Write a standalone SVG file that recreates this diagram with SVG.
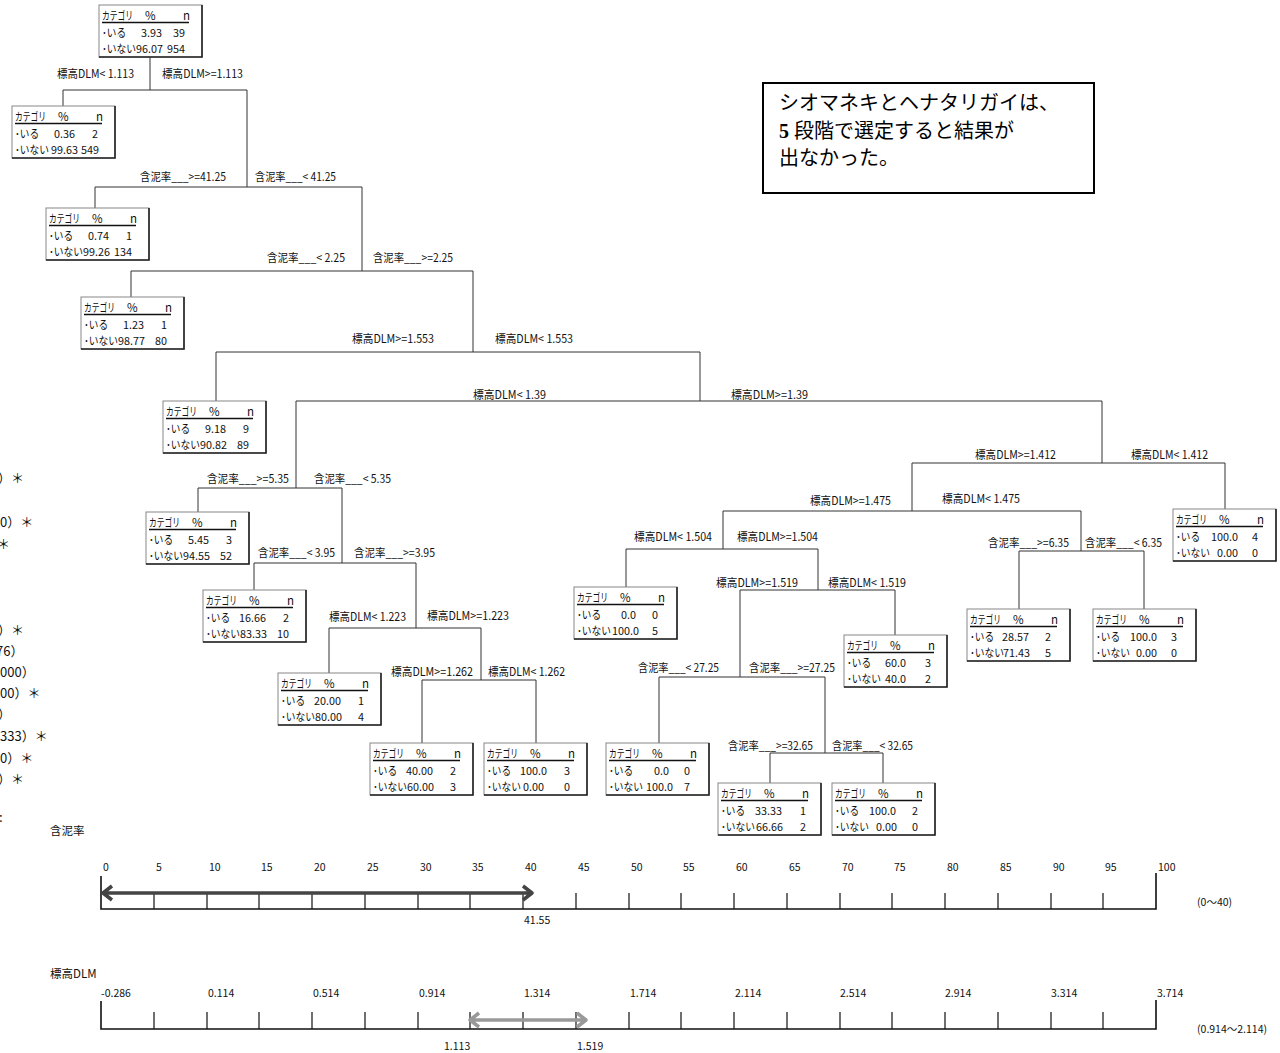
<svg xmlns="http://www.w3.org/2000/svg" width="1280" height="1053" viewBox="0 0 1280 1053">
<style>
  text { font-family: "Noto Sans CJK JP", "Liberation Sans", sans-serif; fill: #111; }
  .t { font-size: 11.5px; }
  .v { font-size: 10.8px; text-anchor: end; }
  .lb { font-size: 11.5px; }
  .sc { font-size: 10.5px; }
  .cut { font-size: 13px; }
  .note { font-family: "Liberation Serif", "Noto Sans CJK JP", serif; font-size: 20px; fill: #000; }
  .box { fill: #fff; stroke: #888; stroke-width: 1; }
  .sh { fill: none; stroke: #222; stroke-width: 1.6; }
  .ul { stroke: #111; stroke-width: 1.5; }
  .cn { fill: none; stroke: #333; stroke-width: 1; }
  .ax { stroke: #111; stroke-width: 1.6; fill: none; }
  .tk { stroke: #111; stroke-width: 1.2; }
</style>
<defs>
  <!-- shared node frame: box, darker bottom/right edge, header underline, row captions -->
  <g id="frame">
    <rect class="box" x="0" y="0" width="103" height="52"/>
    <path class="sh" d="M103,0V52H0"/>
    <line class="ul" x1="3" y1="17.5" x2="90" y2="17.5"/>
    <text class="t" x="3" y="15" textLength="31" lengthAdjust="spacingAndGlyphs">カテゴリ</text>
    <text class="t" x="46" y="15">%</text>
    <text class="t" x="84" y="15">n</text>
    <text class="t" x="3" y="32" textLength="24" lengthAdjust="spacingAndGlyphs">･いる</text>
    <text class="t" x="3" y="48" textLength="34" lengthAdjust="spacingAndGlyphs">･いない</text>
  </g>
</defs>

<!-- connectors of the tree -->
<g id="connectors">
  <path class="cn" d="M150,57V90 M63,90H247 M63,90V106 M247,90V187"/>
  <path class="cn" d="M95,187H362 M95,187V208 M362,187V271"/>
  <path class="cn" d="M131,271H473 M131,271V297 M473,271V352"/>
  <path class="cn" d="M216,352H700 M216,352V401 M700,352V401"/>
  <path class="cn" d="M296,401H1102 M296,401V488 M1102,401V463"/>
  <path class="cn" d="M198,488H342 M198,488V512 M342,488V563"/>
  <path class="cn" d="M254,563H416 M254,563V590 M416,563V628"/>
  <path class="cn" d="M329,628H481 M329,628V673 M481,628V680"/>
  <path class="cn" d="M422,680H536 M422,680V743 M536,680V743"/>
  <path class="cn" d="M912,463H1225 M912,463V511 M1225,463V509"/>
  <path class="cn" d="M723,511H1081 M723,511V549 M1081,511V551"/>
  <path class="cn" d="M626,549H818 M626,549V587 M818,549V590"/>
  <path class="cn" d="M740,590H895 M740,590V677 M895,590V635"/>
  <path class="cn" d="M659,677H825 M659,677V743 M825,677V753"/>
  <path class="cn" d="M770,753H883 M770,753V783 M883,753V783"/>
  <path class="cn" d="M1019,551H1144 M1019,551V609 M1144,551V609"/>
</g>

<!-- split conditions -->
<g id="split-labels">
  <text class="lb" x="57" y="78" textLength="77" lengthAdjust="spacingAndGlyphs">標高DLM&lt; 1.113</text>
  <text class="lb" x="162" y="78" textLength="81" lengthAdjust="spacingAndGlyphs">標高DLM&gt;=1.113</text>
  <text class="lb" x="140" y="181" textLength="86" lengthAdjust="spacingAndGlyphs">含泥率___&gt;=41.25</text>
  <text class="lb" x="255" y="181" textLength="81" lengthAdjust="spacingAndGlyphs">含泥率___&lt; 41.25</text>
  <text class="lb" x="267" y="262" textLength="78" lengthAdjust="spacingAndGlyphs">含泥率___&lt; 2.25</text>
  <text class="lb" x="373" y="262" textLength="80" lengthAdjust="spacingAndGlyphs">含泥率___&gt;=2.25</text>
  <text class="lb" x="352" y="343" textLength="82" lengthAdjust="spacingAndGlyphs">標高DLM&gt;=1.553</text>
  <text class="lb" x="495" y="343" textLength="78" lengthAdjust="spacingAndGlyphs">標高DLM&lt; 1.553</text>
  <text class="lb" x="473" y="399" textLength="73" lengthAdjust="spacingAndGlyphs">標高DLM&lt; 1.39</text>
  <text class="lb" x="731" y="399" textLength="77" lengthAdjust="spacingAndGlyphs">標高DLM&gt;=1.39</text>
  <text class="lb" x="207" y="483" textLength="82" lengthAdjust="spacingAndGlyphs">含泥率___&gt;=5.35</text>
  <text class="lb" x="314" y="483" textLength="77" lengthAdjust="spacingAndGlyphs">含泥率___&lt; 5.35</text>
  <text class="lb" x="258" y="557" textLength="77" lengthAdjust="spacingAndGlyphs">含泥率___&lt; 3.95</text>
  <text class="lb" x="354" y="557" textLength="81" lengthAdjust="spacingAndGlyphs">含泥率___&gt;=3.95</text>
  <text class="lb" x="329" y="621" textLength="77" lengthAdjust="spacingAndGlyphs">標高DLM&lt; 1.223</text>
  <text class="lb" x="427" y="620" textLength="82" lengthAdjust="spacingAndGlyphs">標高DLM&gt;=1.223</text>
  <text class="lb" x="391" y="676" textLength="82" lengthAdjust="spacingAndGlyphs">標高DLM&gt;=1.262</text>
  <text class="lb" x="488" y="676" textLength="77" lengthAdjust="spacingAndGlyphs">標高DLM&lt; 1.262</text>
  <text class="lb" x="975" y="459" textLength="81" lengthAdjust="spacingAndGlyphs">標高DLM&gt;=1.412</text>
  <text class="lb" x="1131" y="459" textLength="77" lengthAdjust="spacingAndGlyphs">標高DLM&lt; 1.412</text>
  <text class="lb" x="810" y="505" textLength="81" lengthAdjust="spacingAndGlyphs">標高DLM&gt;=1.475</text>
  <text class="lb" x="942" y="503" textLength="78" lengthAdjust="spacingAndGlyphs">標高DLM&lt; 1.475</text>
  <text class="lb" x="634" y="541" textLength="78" lengthAdjust="spacingAndGlyphs">標高DLM&lt; 1.504</text>
  <text class="lb" x="737" y="541" textLength="81" lengthAdjust="spacingAndGlyphs">標高DLM&gt;=1.504</text>
  <text class="lb" x="716" y="587" textLength="82" lengthAdjust="spacingAndGlyphs">標高DLM&gt;=1.519</text>
  <text class="lb" x="828" y="587" textLength="78" lengthAdjust="spacingAndGlyphs">標高DLM&lt; 1.519</text>
  <text class="lb" x="638" y="672" textLength="81" lengthAdjust="spacingAndGlyphs">含泥率___&lt; 27.25</text>
  <text class="lb" x="749" y="672" textLength="86" lengthAdjust="spacingAndGlyphs">含泥率___&gt;=27.25</text>
  <text class="lb" x="728" y="750" textLength="85" lengthAdjust="spacingAndGlyphs">含泥率___&gt;=32.65</text>
  <text class="lb" x="832" y="750" textLength="81" lengthAdjust="spacingAndGlyphs">含泥率___&lt; 32.65</text>
  <text class="lb" x="988" y="547" textLength="81" lengthAdjust="spacingAndGlyphs">含泥率___&gt;=6.35</text>
  <text class="lb" x="1085" y="547" textLength="77" lengthAdjust="spacingAndGlyphs">含泥率___&lt; 6.35</text>
</g>

<!-- tree nodes -->
<g id="node-1" transform="translate(99,5)"><use href="#frame"/><text class="v" x="63" y="32">3.93</text><text class="v" x="86" y="32">39</text><text class="v" x="64" y="48">96.07</text><text class="v" x="86" y="48">954</text></g>
<g id="node-2" transform="translate(12,106)"><use href="#frame"/><text class="v" x="63" y="32">0.36</text><text class="v" x="86" y="32">2</text><text class="v" x="66" y="48">99.63</text><text class="v" x="87" y="48">549</text></g>
<g id="node-3" transform="translate(46,208)"><use href="#frame"/><text class="v" x="63" y="32">0.74</text><text class="v" x="86" y="32">1</text><text class="v" x="64" y="48">99.26</text><text class="v" x="86" y="48">134</text></g>
<g id="node-4" transform="translate(81,297)"><use href="#frame"/><text class="v" x="63" y="32">1.23</text><text class="v" x="86" y="32">1</text><text class="v" x="64" y="48">98.77</text><text class="v" x="86" y="48">80</text></g>
<g id="node-5" transform="translate(163,401)"><use href="#frame"/><text class="v" x="63" y="32">9.18</text><text class="v" x="86" y="32">9</text><text class="v" x="64" y="48">90.82</text><text class="v" x="86" y="48">89</text></g>
<g id="node-6" transform="translate(146,512)"><use href="#frame"/><text class="v" x="63" y="32">5.45</text><text class="v" x="86" y="32">3</text><text class="v" x="64" y="48">94.55</text><text class="v" x="86" y="48">52</text></g>
<g id="node-7" transform="translate(203,590)"><use href="#frame"/><text class="v" x="63" y="32">16.66</text><text class="v" x="86" y="32">2</text><text class="v" x="64" y="48">83.33</text><text class="v" x="86" y="48">10</text></g>
<g id="node-8" transform="translate(278,673)"><use href="#frame"/><text class="v" x="63" y="32">20.00</text><text class="v" x="86" y="32">1</text><text class="v" x="64" y="48">80.00</text><text class="v" x="86" y="48">4</text></g>
<g id="node-9" transform="translate(370,743)"><use href="#frame"/><text class="v" x="63" y="32">40.00</text><text class="v" x="86" y="32">2</text><text class="v" x="64" y="48">60.00</text><text class="v" x="86" y="48">3</text></g>
<g id="node-10" transform="translate(484,743)"><use href="#frame"/><text class="v" x="63" y="32">100.0</text><text class="v" x="86" y="32">3</text><text class="v" x="60" y="48">0.00</text><text class="v" x="86" y="48">0</text></g>
<g id="node-11" transform="translate(1173,509)"><use href="#frame"/><text class="v" x="65" y="32">100.0</text><text class="v" x="85" y="32">4</text><text class="v" x="65" y="48">0.00</text><text class="v" x="85" y="48">0</text></g>
<g id="node-12" transform="translate(574,587)"><use href="#frame"/><text class="v" x="62" y="32">0.0</text><text class="v" x="84" y="32">0</text><text class="v" x="65" y="48">100.0</text><text class="v" x="84" y="48">5</text></g>
<g id="node-13" transform="translate(844,635)"><use href="#frame"/><text class="v" x="62" y="32">60.0</text><text class="v" x="87" y="32">3</text><text class="v" x="62" y="48">40.0</text><text class="v" x="87" y="48">2</text></g>
<g id="node-14" transform="translate(606,743)"><use href="#frame"/><text class="v" x="63" y="32">0.0</text><text class="v" x="84" y="32">0</text><text class="v" x="67" y="48">100.0</text><text class="v" x="84" y="48">7</text></g>
<g id="node-15" transform="translate(718,783)"><use href="#frame"/><text class="v" x="64" y="32">33.33</text><text class="v" x="88" y="32">1</text><text class="v" x="65" y="48">66.66</text><text class="v" x="88" y="48">2</text></g>
<g id="node-16" transform="translate(832,783)"><use href="#frame"/><text class="v" x="64" y="32">100.0</text><text class="v" x="86" y="32">2</text><text class="v" x="65" y="48">0.00</text><text class="v" x="86" y="48">0</text></g>
<g id="node-17" transform="translate(967,609)"><use href="#frame"/><text class="v" x="62" y="32">28.57</text><text class="v" x="84" y="32">2</text><text class="v" x="63" y="48">71.43</text><text class="v" x="84" y="48">5</text></g>
<g id="node-18" transform="translate(1093,609)"><use href="#frame"/><text class="v" x="64" y="32">100.0</text><text class="v" x="84" y="32">3</text><text class="v" x="64" y="48">0.00</text><text class="v" x="84" y="48">0</text></g>

<!-- note box -->
<g id="note">
  <rect x="763" y="83" width="331" height="110" fill="#fff" stroke="#000" stroke-width="2"/>
  <text class="note" x="779" y="110">シオマネキとヘナタリガイは、</text>
  <text class="note" x="779" y="138"><tspan font-weight="bold">5</tspan> 段階で選定すると結果が</text>
  <text class="note" x="779" y="165">出なかった。</text>
</g>

<!-- text running in from the left edge -->
<g id="left-edge-text">
  <text class="cut" x="-2" y="483">）＊</text>
  <text class="cut" x="0" y="527">0）＊</text>
  <text class="cut" x="-3" y="549">＊</text>
  <text class="cut" x="-2" y="635">）＊</text>
  <text class="cut" x="-4" y="656">76）</text>
  <text class="cut" x="0" y="677">000）</text>
  <text class="cut" x="0" y="698">00）＊</text>
  <text class="cut" x="-2" y="719">）</text>
  <text class="cut" x="0" y="741">333）＊</text>
  <text class="cut" x="0" y="763">0）＊</text>
  <text class="cut" x="-2" y="784">）＊</text>
  <text class="cut" x="-1" y="822">:</text>
</g>

<!-- scale: mud content -->
<g id="scale-mud">
  <text class="lb" x="50" y="835">含泥率</text>
  <g class="sc">
    <text x="103" y="871">0</text><text x="156" y="871">5</text><text x="209" y="871">10</text><text x="261" y="871">15</text>
    <text x="314" y="871">20</text><text x="367" y="871">25</text><text x="420" y="871">30</text><text x="472" y="871">35</text>
    <text x="525" y="871">40</text><text x="578" y="871">45</text><text x="631" y="871">50</text><text x="683" y="871">55</text>
    <text x="736" y="871">60</text><text x="789" y="871">65</text><text x="842" y="871">70</text><text x="894" y="871">75</text>
    <text x="947" y="871">80</text><text x="1000" y="871">85</text><text x="1053" y="871">90</text><text x="1105" y="871">95</text>
    <text x="1158" y="871">100</text>
  </g>
  <path class="ax" d="M101,876V909H1156V873"/>
  <path class="tk" d="M154,893V909 M207,893V909 M259,893V909 M312,893V909 M365,893V909 M418,893V909 M470,893V909 M523,893V909 M576,893V909 M629,893V909 M681,893V909 M734,893V909 M787,893V909 M840,893V909 M892,893V909 M945,893V909 M998,893V909 M1051,893V909 M1103,893V909"/>
  <path d="M104,893H530 M112,886L103,893L112,900 M523,886L532,893L523,900" fill="none" stroke="#444" stroke-width="3.5" stroke-linejoin="round"/>
  <text class="sc" x="524" y="924">41.55</text>
  <text class="sc" x="1197" y="906">(0～40)</text>
</g>

<!-- scale: elevation DLM -->
<g id="scale-dlm">
  <text class="lb" x="50" y="978">標高DLM</text>
  <g class="sc">
    <text x="101" y="997">-0.286</text><text x="208" y="997">0.114</text><text x="313" y="997">0.514</text>
    <text x="419" y="997">0.914</text><text x="524" y="997">1.314</text><text x="630" y="997">1.714</text>
    <text x="735" y="997">2.114</text><text x="840" y="997">2.514</text><text x="945" y="997">2.914</text>
    <text x="1051" y="997">3.314</text><text x="1157" y="997">3.714</text>
  </g>
  <path class="ax" d="M101,1001V1029H1156V1000" stroke-width="2"/>
  <path class="tk" d="M154,1012V1029 M207,1012V1029 M259,1012V1029 M312,1012V1029 M365,1012V1029 M418,1012V1029 M470,1012V1029 M523,1012V1029 M576,1012V1029 M629,1012V1029 M681,1012V1029 M734,1012V1029 M787,1012V1029 M840,1012V1029 M892,1012V1029 M945,1012V1029 M998,1012V1029 M1051,1012V1029 M1103,1012V1029"/>
  <path d="M472,1020H584 M479,1013L470,1020L479,1027 M577,1013L586,1020L577,1027" fill="none" stroke="#999" stroke-width="3.5" stroke-linejoin="round"/>
  <text class="sc" x="444" y="1050">1.113</text>
  <text class="sc" x="577" y="1050">1.519</text>
  <text class="sc" x="1197" y="1033">(0.914～2.114)</text>
</g>
</svg>
